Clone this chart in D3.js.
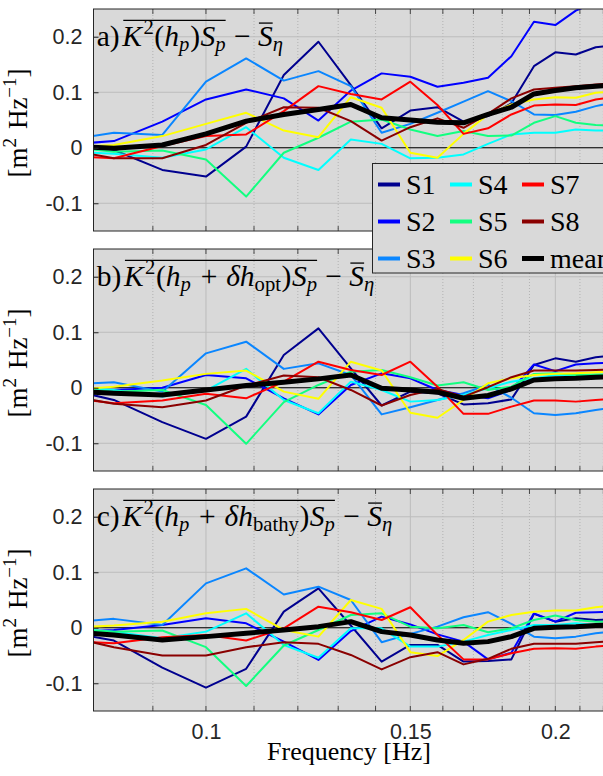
<!DOCTYPE html>
<html><head><meta charset="utf-8">
<script src="https://cdn.jsdelivr.net/npm/d3@7"></script>
<style>body{margin:0;background:#fff}svg{display:block}</style>
</head><body><svg id="c" width="603" height="776"></svg>
<script>
// ---------------- data ----------------
const freq = [0.075, 0.0833, 0.0917, 0.1, 0.1083, 0.1167, 0.125, 0.1333, 0.1417, 0.15,
              0.1583, 0.1667, 0.175, 0.1833, 0.1917, 0.2, 0.2083, 0.2167, 0.225];
const seriesNames = ["S1","S2","S3","S4","S5","S6","S7","S8","mean"];
const seriesColors = ["#00008f","#0000ff","#0a86ff","#00ffff","#12ff80","#ffff00","#ff0000","#8a0000","#000000"];
const yTicks = [-0.1, 0, 0.1, 0.2];
const yTickLabels = ["-0.1","0","0.1","0.2"];
const xMajorTicks = [0.1, 0.15, 0.2];
const xTickLabels = ["0.1","0.15","0.2"];
const xMinorTicks = [0.08,0.09,0.11,0.12,0.13,0.14,0.16,0.17,0.18,0.19,0.21,0.22];

// panel a
const a_S1 = [0.011,-0.004,-0.040,-0.052,0.002,0.131,0.191,0.113,0.035,0.067,0.073,0.047,0.057,0.080,0.147,0.172,0.168,0.181,0.185];
const a_S2 = [0.005,0.012,0.047,0.087,0.105,0.089,0.049,0.103,0.134,0.128,0.110,0.117,0.126,0.165,0.227,0.221,0.247,0.262,0.275];
const a_S3 = [0.012,0.027,0.023,0.119,0.161,0.121,0.138,0.111,0.027,0.043,0.063,0.083,0.102,0.084,0.060,0.059,0.065,0.075,0.082];
const a_S4 = [-0.006,-0.011,-0.018,-0.003,0.037,-0.018,-0.040,0.015,0.007,-0.019,-0.018,-0.012,0.007,0.024,0.027,0.027,0.033,0.031,0.031];
const a_S5 = [0.003,-0.007,-0.005,-0.021,-0.088,-0.009,0.018,0.047,0.051,0.033,0.021,0.030,0.021,0.022,0.045,0.057,0.045,0.041,0.040];
const a_S6 = [0.000,0.005,0.021,0.043,0.063,0.031,0.019,0.091,0.072,-0.009,-0.018,0.025,0.060,0.078,0.087,0.091,0.090,0.099,0.102];
const a_S7 = [-0.014,-0.019,0.003,0.021,0.024,0.066,0.111,0.097,0.087,0.119,0.077,0.025,0.035,0.060,0.076,0.078,0.077,0.087,0.092];
const a_S8 = [-0.002,-0.019,-0.019,0.005,0.045,0.073,0.072,0.048,0.013,0.037,0.053,0.036,0.061,0.089,0.105,0.108,0.111,0.114,0.116];
const a_mean = [0.004,-0.001,0.005,0.025,0.048,0.060,0.069,0.078,0.054,0.050,0.046,0.045,0.060,0.073,0.097,0.103,0.108,0.111,0.113];
// panel b
const b_S1 = [0.000,-0.022,-0.062,-0.092,-0.052,0.059,0.107,0.035,-0.032,-0.007,-0.010,-0.030,-0.028,-0.021,0.041,0.053,0.047,0.055,0.058];
const b_S2 = [-0.004,-0.004,0.000,0.023,0.017,-0.019,-0.048,0.005,0.026,0.017,-0.004,-0.013,-0.019,-0.004,0.042,0.030,0.042,0.044,0.045];
const b_S3 = [0.005,0.010,-0.007,0.062,0.083,0.034,0.044,0.023,-0.048,-0.035,-0.022,-0.010,0.005,-0.018,-0.046,-0.049,-0.046,-0.040,-0.036];
const b_S4 = [0.003,-0.004,-0.016,-0.005,0.034,-0.022,-0.046,0.011,-0.004,-0.025,-0.022,-0.013,-0.001,0.011,0.017,0.023,0.023,0.023,0.023];
const b_S5 = [0.000,-0.007,-0.004,-0.031,-0.101,-0.026,0.005,0.029,0.032,0.019,0.004,0.010,-0.004,0.002,0.025,0.026,0.023,0.024,0.024];
const b_S6 = [-0.005,0.002,0.013,0.025,0.031,-0.007,-0.020,0.047,0.031,-0.045,-0.054,-0.022,0.008,0.017,0.023,0.025,0.026,0.028,0.029];
const b_S7 = [-0.016,-0.028,-0.023,-0.011,-0.019,0.011,0.047,0.032,0.023,0.047,0.002,-0.047,-0.047,-0.034,-0.023,-0.023,-0.025,-0.022,-0.020];
const b_S8 = [-0.012,-0.029,-0.035,-0.023,0.004,0.022,0.019,-0.004,-0.032,-0.013,-0.002,-0.016,0.001,0.019,0.031,0.031,0.031,0.032,0.033];
const b_mean = [-0.005,-0.010,-0.013,-0.004,0.004,0.010,0.016,0.023,-0.001,-0.004,-0.008,-0.019,-0.014,-0.002,0.014,0.016,0.017,0.019,0.020];
// panel c
const c_S1 = [-0.006,-0.023,-0.072,-0.108,-0.074,0.029,0.071,0.004,-0.061,-0.031,-0.031,-0.061,-0.060,-0.057,0.025,0.011,0.017,0.014,0.015];
const c_S2 = [-0.009,-0.004,0.005,0.017,0.008,-0.025,-0.058,-0.006,0.020,0.006,-0.012,-0.025,-0.057,-0.045,0.026,0.011,0.027,0.028,0.029];
const c_S3 = [0.009,0.016,0.005,0.080,0.107,0.060,0.074,0.050,-0.026,-0.011,0.002,0.019,0.028,0.007,-0.016,-0.019,-0.016,-0.010,-0.006];
const c_S4 = [0.000,-0.007,-0.019,-0.007,0.026,-0.031,-0.054,-0.001,-0.001,-0.034,-0.034,-0.025,-0.013,-0.004,0.005,0.005,0.008,0.005,0.006];
const c_S5 = [-0.002,-0.007,-0.005,-0.035,-0.105,-0.032,-0.004,0.023,0.026,0.002,-0.001,0.005,-0.008,-0.001,0.014,0.022,0.014,0.011,0.010];
const c_S6 = [-0.001,0.004,0.011,0.026,0.034,-0.004,-0.016,0.050,0.034,-0.044,-0.051,-0.022,0.011,0.023,0.029,0.031,0.031,0.037,0.040];
const c_S7 = [-0.023,-0.028,-0.017,-0.013,-0.023,-0.001,0.038,0.028,0.014,0.037,-0.013,-0.057,-0.057,-0.046,-0.038,-0.037,-0.038,-0.034,-0.031];
const c_S8 = [-0.013,-0.035,-0.050,-0.050,-0.035,-0.026,-0.029,-0.049,-0.075,-0.053,-0.044,-0.066,-0.056,-0.038,-0.029,-0.029,-0.029,-0.026,-0.024];
const c_mean = [-0.006,-0.013,-0.022,-0.016,-0.010,-0.004,0.002,0.011,-0.007,-0.013,-0.022,-0.028,-0.025,-0.016,-0.001,0.001,0.002,0.004,0.005];

const panelData = [
  [a_S1,a_S2,a_S3,a_S4,a_S5,a_S6,a_S7,a_S8,a_mean],
  [b_S1,b_S2,b_S3,b_S4,b_S5,b_S6,b_S7,b_S8,b_mean],
  [c_S1,c_S2,c_S3,c_S4,c_S5,c_S6,c_S7,c_S8,c_mean]
];

// ---------------- layout ----------------
const SERIF = "Liberation Serif";
const SANS = "Liberation Sans";
const axisCol = "#262626";
const svg = d3.select("#c");
const left = 93.5, right = 604.5, ph = 222;
const panelTops = [9, 249, 489];
const x = d3.scaleLog().domain([0.08, 0.2205]).range([left, right]);

function drawPieces(g, pieces, fs) {
  let cx = 0; const ol = {};
  pieces.forEach(p => {
    if (p.gap !== undefined) { cx += p.gap * fs; return; }
    const small = p.pos === "sup" || p.pos === "sub";
    const size = small ? fs * 0.7 : fs;
    const dy = p.pos === "sup" ? -fs * 0.4 : (p.pos === "sub" ? fs * 0.2 : 0);
    const t = g.append("text").attr("x", cx).attr("y", dy)
      .attr("font-family", SERIF).attr("font-size", size)
      .attr("font-style", p.i ? "italic" : "normal").attr("fill", "#000").text(p.t);
    const w = t.node().getComputedTextLength();
    if (p.ol) { if (!ol[p.ol]) ol[p.ol] = [cx, cx + w]; else ol[p.ol][1] = cx + w; }
    cx += w + (p.k || 0) * fs;
  });
  return { width: cx, ol };
}

function titlePieces(letter, inner) {
  return [{t: letter + ")"}, {gap: 0.09},
    {t: "K", i: 1, ol: 1, k: 0.05}, {t: "2", pos: "sup", ol: 1, k: 0.02}, {t: "(", ol: 1},
    {t: "h", i: 1, ol: 1}, {t: "p", i: 1, pos: "sub", ol: 1, k: 0.03}]
    .concat(inner)
    .concat([{t: ")", ol: 1, k: 0.02}, {t: "S", i: 1, ol: 1}, {t: "p", i: 1, pos: "sub", ol: 1, k: 0.03},
      {gap: 0.25}, {t: "\u2212"}, {gap: 0.25}, {t: "S", i: 1, ol: 2}, {t: "\u03B7", i: 1, pos: "sub"}]);
}
const titles = [
  titlePieces("a", []),
  titlePieces("b", [{gap: 0.3}, {t: "+", ol: 1}, {gap: 0.3}, {t: "\u03B4", i: 1, ol: 1}, {t: "h", i: 1, ol: 1}, {t: "opt", pos: "sub", ol: 1, k: 0.02}]),
  titlePieces("c", [{gap: 0.3}, {t: "+", ol: 1}, {gap: 0.3}, {t: "\u03B4", i: 1, ol: 1}, {t: "h", i: 1, ol: 1}, {t: "bathy", pos: "sub", ol: 1, k: 0.02}])
];

panelTops.forEach((top, pi) => {
  const y = d3.scaleLinear().domain([-0.15, 0.25]).range([top + ph, top]);
  const g = svg.append("g");
  g.append("rect").attr("x", left).attr("y", top).attr("width", right - left).attr("height", ph).attr("fill", "#d9d9d9");
  // grid
  g.selectAll(".mg").data(xMinorTicks).join("line")
    .attr("x1", d => x(d)).attr("x2", d => x(d)).attr("y1", top).attr("y2", top + ph)
    .attr("stroke", "#a8a8a8").attr("stroke-width", 0.8).attr("stroke-dasharray", "1,2");
  g.selectAll(".Mg").data(xMajorTicks).join("line")
    .attr("x1", d => x(d)).attr("x2", d => x(d)).attr("y1", top).attr("y2", top + ph)
    .attr("stroke", "#bcbcbc").attr("stroke-width", 1);
  g.selectAll(".yg").data(yTicks).join("line")
    .attr("x1", left).attr("x2", right).attr("y1", d => y(d)).attr("y2", d => y(d))
    .attr("stroke", "#bcbcbc").attr("stroke-width", 1);
  // zero line
  g.append("line").attr("x1", left).attr("x2", right).attr("y1", y(0)).attr("y2", y(0))
    .attr("stroke", "#000").attr("stroke-width", 1);
  // clip
  const cid = "clip" + pi;
  svg.append("clipPath").attr("id", cid).append("rect")
    .attr("x", left).attr("y", top).attr("width", right - left).attr("height", ph);
  const lg = g.append("g").attr("clip-path", `url(#${cid})`);
  panelData[pi].forEach((vals, si) => {
    lg.append("path").attr("d", d3.line().x((d, i) => x(freq[i])).y(d => y(d))(vals))
      .attr("fill", "none").attr("stroke", seriesColors[si])
      .attr("stroke-width", si === 8 ? 5 : 2).attr("stroke-linejoin", "round");
  });
  // ticks (inside)
  const tickLen = 5;
  const allX = xMajorTicks.concat(xMinorTicks);
  g.selectAll(".tb").data(allX).join("line")
    .attr("x1", d => x(d)).attr("x2", d => x(d)).attr("y1", top + ph).attr("y2", top + ph - tickLen)
    .attr("stroke", axisCol).attr("stroke-width", 0.8);
  g.selectAll(".tt").data(allX).join("line")
    .attr("x1", d => x(d)).attr("x2", d => x(d)).attr("y1", top).attr("y2", top + tickLen)
    .attr("stroke", axisCol).attr("stroke-width", 0.8);
  // y axis
  const ya = g.append("g").attr("transform", `translate(${left},0)`)
    .call(d3.axisLeft(y).tickValues(yTicks).tickSize(-tickLen).tickPadding(11)
      .tickFormat((d, i) => yTickLabels[i]));
  ya.select(".domain").remove();
  ya.attr("font-family", SANS).attr("font-size", 21.5);
  ya.selectAll("line").attr("stroke", axisCol);
  ya.selectAll("text").attr("fill", axisCol).attr("font-size", 21.5);
  // border
  g.append("rect").attr("x", left).attr("y", top).attr("width", right - left).attr("height", ph)
    .attr("fill", "none").attr("stroke", axisCol).attr("stroke-width", 1);
  // x labels on last panel
  if (pi === 2) {
    const xa = g.append("g").attr("transform", `translate(0,${top + ph})`)
      .call(d3.axisBottom(x).tickValues(xMajorTicks).tickSize(0).tickPadding(15)
        .tickFormat((d, i) => xTickLabels[i]));
    xa.select(".domain").remove();
    xa.attr("font-family", SANS).attr("font-size", 21.5);
    xa.selectAll("text").attr("fill", axisCol).attr("font-size", 21.5).attr("dy", null).attr("y", 28);
  }
  // title
  const fs = 29.5;
  const tg = g.append("g").attr("transform", `translate(96.7,${top + 36.5})`);
  const res = drawPieces(tg, titles[pi], fs);
  const o1 = res.ol[1], o2 = res.ol[2];
  tg.append("line").attr("x1", o1[0] + 1).attr("x2", o1[1]).attr("y1", -fs * 0.85).attr("y2", -fs * 0.85)
    .attr("stroke", "#000").attr("stroke-width", 1.3);
  tg.append("line").attr("x1", o2[0] + 1).attr("x2", o2[1]).attr("y1", -fs * 0.76).attr("y2", -fs * 0.76)
    .attr("stroke", "#000").attr("stroke-width", 1.3);
  // y label
  const yl = svg.append("g");
  const yres = drawPieces(yl, [{t: "["}, {t: "m"}, {t: "2", pos: "sup"}, {gap: 0.33}, {t: "Hz"},
    {t: "\u22121", pos: "sup"}, {t: "]"}], 27);
  yl.attr("transform", `translate(27,${top + ph / 2 + 3 + yres.width / 2}) rotate(-90)`);
});

// x label
svg.append("text").attr("x", 349).attr("y", 760).attr("text-anchor", "middle")
  .attr("font-family", SERIF).attr("font-size", 26).attr("fill", "#000").text("Frequency [Hz]");

// legend
const legend = svg.append("g");
legend.append("rect").attr("x", 372.5).attr("y", 163.5).attr("width", 260).attr("height", 109.5)
  .attr("fill", "#d9d9d9").attr("stroke", axisCol).attr("stroke-width", 1);
const colX = [378, 450, 522], rowY = [184.5, 221.5, 258.5];
seriesNames.forEach((nm, i) => {
  const cx = colX[Math.floor(i / 3)], cy = rowY[i % 3];
  legend.append("line").attr("x1", cx).attr("x2", cx + 22).attr("y1", cy).attr("y2", cy)
    .attr("stroke", seriesColors[i]).attr("stroke-width", i === 8 ? 5 : 4);
  legend.append("text").attr("x", cx + 28).attr("y", cy + 9.5)
    .attr("font-family", SERIF).attr("font-size", 28).attr("fill", "#000").text(nm);
});
</script></body></html>
